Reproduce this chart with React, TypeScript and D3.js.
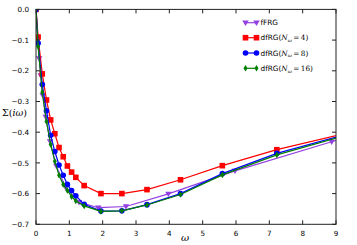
import * as d3 from 'd3';

const W = 357;
const H = 245;
const M = { left: 36, right: 21, top: 9.4, bottom: 20.7 };

// Matsubara frequencies shared by the dfRG runs
const omegaDf = [0, 0.063, 0.188, 0.314, 0.44, 0.565, 0.691, 0.817, 0.942, 1.068, 1.194, 1.445, 1.948, 2.576, 3.33, 4.335, 5.59, 7.225, 9.36];
const sigmaN4 = [0, -0.09, -0.21, -0.295, -0.36, -0.405, -0.45, -0.48, -0.51, -0.53, -0.547, -0.574, -0.6, -0.6, -0.587, -0.555, -0.509, -0.457, -0.402];
const sigmaN8 = [0, -0.11, -0.245, -0.33, -0.41, -0.463, -0.507, -0.54, -0.57, -0.59, -0.607, -0.635, -0.657, -0.656, -0.636, -0.6, -0.535, -0.469, -0.405];
const sigmaN16 = [0, -0.121, -0.27, -0.365, -0.44, -0.495, -0.54, -0.57, -0.59, -0.61, -0.624, -0.64, -0.658, -0.656, -0.637, -0.603, -0.539, -0.474, -0.408];

// fFRG grid
const omegaF = [0, 0.095, 0.14, 0.2, 0.29, 0.42, 0.61, 0.89, 1.29, 1.87, 2.7, 3.97, 5.97, 8.87, 13];
const sigmaF = [0, -0.16, -0.215, -0.28, -0.35, -0.43, -0.51, -0.58, -0.628, -0.646, -0.642, -0.601, -0.526, -0.431, -0.3];

const xTicks = [0, 1, 2, 3, 4, 5, 6, 7, 8, 9];
const yTicks = [0, -0.1, -0.2, -0.3, -0.4, -0.5, -0.6, -0.7];

type Series = { key: string; label: string; value?: string; color: string; marker: string; xs: number[]; ys: number[] };

const series: Series[] = [
  { key: 'f', label: 'fFRG', color: '#9440E0', marker: 'tri', xs: omegaF, ys: sigmaF },
  { key: 'n4', label: 'dfRG(', value: '4', color: '#FF0000', marker: 'square', xs: omegaDf, ys: sigmaN4 },
  { key: 'n8', label: 'dfRG(', value: '8', color: '#0000FF', marker: 'circle', xs: omegaDf, ys: sigmaN8 },
  { key: 'n16', label: 'dfRG(', value: '16', color: '#007F00', marker: 'diamond', xs: omegaDf, ys: sigmaN16 },
];

function Marker({ kind, x, y, color }: { kind: string; x: number; y: number; color: string }) {
  if (kind === 'square') return <rect x={x - 2.8} y={y - 2.8} width={5.6} height={5.6} fill={color} />;
  if (kind === 'circle') return <circle cx={x} cy={y} r={2.8} fill={color} />;
  if (kind === 'tri') return <path d={`M${x - 3.2},${y - 2.2}L${x + 3.2},${y - 2.2}L${x},${y + 3.2}Z`} fill={color} />;
  return <path d={`M${x},${y - 3.3}L${x + 2},${y}L${x},${y + 3.3}L${x - 2},${y}Z`} fill={color} />;
}

export default function App() {
  const x = d3.scaleLinear().domain([0, 9]).range([M.left, W - M.right]);
  const y = d3.scaleLinear().domain([0, -0.7]).range([M.top, H - M.bottom]);
  const line = d3.line<[number, number]>().x(d => x(d[0])).y(d => y(d[1]));
  const [x0, x1] = x.range();
  const [y0, y1] = y.range();
  const tickFont = { fontFamily: 'DejaVu Sans', fontSize: 7.2, fill: '#000' };
  const legendX = 245.5;
  const handleLen = 11;
  const legendY = [22.7, 37.7, 53, 68.3];

  return (
    <div style={{ position: 'fixed', left: 0, top: 0 }}>
      <svg width={W} height={H} style={{ display: 'block', background: '#fff' }}>
        <defs>
          <clipPath id="plot">
            <rect x={x0} y={y0} width={x1 - x0} height={y1 - y0} />
          </clipPath>
        </defs>

        <g clipPath="url(#plot)">
          {series.map(s => {
            const pts = s.xs.map((v, i) => [v, s.ys[i]] as [number, number]);
            return (
              <g key={s.key}>
                <path d={line(pts) || ''} fill="none" stroke={s.color} strokeWidth={1.2} />
                {pts.map((p, i) => (
                  <Marker key={i} kind={s.marker} x={x(p[0])} y={y(p[1])} color={s.color} />
                ))}
              </g>
            );
          })}
        </g>

        {/* frame */}
        <rect x={x0} y={y0} width={x1 - x0} height={y1 - y0} fill="none" stroke="#222" strokeWidth={1} />

        {/* x ticks */}
        {xTicks.map(t => (
          <g key={'x' + t}>
            <line x1={x(t)} x2={x(t)} y1={y1} y2={y1 - 4} stroke="#222" />
            <line x1={x(t)} x2={x(t)} y1={y0} y2={y0 + 4} stroke="#222" />
            <text x={x(t)} y={y1 + 11.5} textAnchor="middle" {...tickFont}>{t}</text>
          </g>
        ))}

        {/* y ticks */}
        {yTicks.map(t => (
          <g key={'y' + t}>
            <line x1={x0} x2={x0 + 4} y1={y(t)} y2={y(t)} stroke="#222" />
            <line x1={x1} x2={x1 - 4} y1={y(t)} y2={y(t)} stroke="#222" />
            <text x={x0 - 7} y={y(t) + 2.6} textAnchor="end" {...tickFont}>
              {t === 0 ? '0.0' : '\u2212' + Math.abs(t).toFixed(1)}
            </text>
          </g>
        ))}

        {/* axis labels */}
        <text x={185} y={241} textAnchor="middle" fontFamily="DejaVu Serif" fontStyle="italic" fontSize={10}>ω</text>
        <text x={2} y={116} fontFamily="DejaVu Serif" fontSize={9.5}>
          Σ(<tspan fontStyle="italic">iω</tspan>)
        </text>

        {/* legend */}
        {series.map((s, i) => (
          <g key={'lg' + s.key}>
            <line x1={legendX} x2={legendX + handleLen} y1={legendY[i]} y2={legendY[i]} stroke={s.color} strokeWidth={1.2} />
            <Marker kind={s.marker} x={legendX} y={legendY[i]} color={s.color} />
            <Marker kind={s.marker} x={legendX + handleLen} y={legendY[i]} color={s.color} />
            <text x={legendX + handleLen + 4} y={legendY[i] + 2.7} fontFamily="DejaVu Sans" fontSize={7.3}>
              {s.label}
              {s.value && (
                <>
                  <tspan fontFamily="DejaVu Serif" fontStyle="italic">N</tspan>
                  <tspan fontFamily="DejaVu Serif" fontStyle="italic" fontSize={5} dy={1.5}>ω</tspan>
                  <tspan fontFamily="DejaVu Serif" dy={-1.5}>{'\u2009=\u2009'}{s.value})</tspan>
                </>
              )}
            </text>
          </g>
        ))}
      </svg>
    </div>
  );
}
